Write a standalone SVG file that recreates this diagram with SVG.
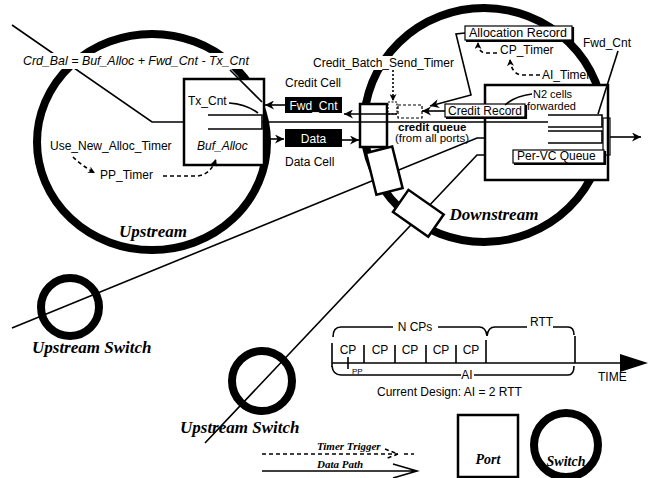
<svg xmlns="http://www.w3.org/2000/svg" width="652" height="478" viewBox="0 0 652 478">
<defs>
<style>
.s{font-family:"Liberation Sans",Arial,Helvetica,sans-serif;font-size:12px;fill:#000}
.it{font-style:italic}
.b{font-weight:bold}
.w{fill:#fff}
.lb{font-family:"Liberation Serif","Times New Roman",serif;font-weight:bold;font-style:italic;font-size:17px;fill:#000}
.ring{fill:none;stroke:#000;stroke-width:8}
.ln{fill:none;stroke:#000;stroke-width:1.6}
.thin{fill:none;stroke:#000;stroke-width:1.2}
.dsh{fill:none;stroke:#000;stroke-width:1.6;stroke-dasharray:4 3}
.dot{fill:none;stroke:#000;stroke-width:1.6;stroke-dasharray:2 2}
.port{fill:#fff;stroke:#000;stroke-width:2.5}
.mask{fill:#fff;stroke:none}
</style>
<marker id="ah" viewBox="0 0 10 10" refX="10" refY="5" markerWidth="11" markerHeight="9" orient="auto" markerUnits="userSpaceOnUse">
<path d="M0,0 L10,5 L0,10 L3,5 z" fill="#000"/>
</marker>
<marker id="ahs" viewBox="0 0 10 10" refX="10" refY="5" markerWidth="7" markerHeight="7" orient="auto" markerUnits="userSpaceOnUse">
<path d="M0,0 L10,5 L0,10 L3,5 z" fill="#000"/>
</marker>
</defs>

<g id="connectors">
<path class="ln" d="M12,25 L152,122 H208"/>
<path class="ln" d="M12,328 L477,138 H548"/>
<path class="ln" d="M205,443 L477,155 H513"/>
</g>

<g id="upstream-switch">
<ellipse class="ring" cx="152" cy="142" rx="115" ry="108"/>
<rect class="mask" x="20" y="53" width="234" height="16"/>
<text class="s it" x="23" y="65" style="font-size:12.4px">Crd_Bal = Buf_Alloc + Fwd_Cnt - Tx_Cnt</text>
<text class="s" x="50" y="150">Use_New_Alloc_Timer</text>
<text class="s" x="100" y="179">PP_Timer</text>
<text class="lb" x="153" y="237" text-anchor="middle">Upstream</text>
</g>

<g id="upstream-port">
<rect class="port" x="184" y="79" width="80" height="86"/>
<path class="ln" d="M208,115 H262 V129 H208"/>
<text class="s" x="188" y="105">Tx_Cnt</text>
<text class="s it" x="197" y="150">Buf_Alloc</text>
</g>

<g id="downstream-switch">
<ellipse class="ring" cx="484" cy="125" rx="120" ry="117"/>
<rect class="mask" x="311" y="56" width="149" height="14"/>
<text class="s" x="313" y="67">Credit_Batch_Send_Timer</text>
<text class="lb" x="494" y="220" text-anchor="middle">Downstream</text>
</g>

<g id="downstream-ports">
<rect class="port" x="360" y="104" width="27" height="43"/>
<rect class="port" x="0" y="0" width="27" height="43" transform="translate(366,153) rotate(-14)"/>
<rect class="port" x="0" y="0" width="27" height="43" transform="translate(393,212) rotate(-55)"/>
</g>

<g id="downstream-box">
<rect class="port" x="485" y="85" width="123" height="95"/>
<path class="ln" d="M548,115 H602 V127 H548 M548,131 H602 V143 H548"/>
<rect class="thin" x="603" y="118" width="7" height="37" fill="#fff"/>
<text class="s" x="533" y="97.5" style="font-size:11px">N2 cells</text>
<text class="s" x="527" y="110" style="font-size:11px">forwarded</text>
</g>

<g id="per-vc-queue">
<rect x="513" y="150" width="91" height="13" fill="#fff" stroke="#000" stroke-width="1.2"/>
<path d="M514,164 H605 V151" fill="none" stroke="#000" stroke-width="2.2"/>
<text class="s" x="517" y="160">Per-VC Queue</text>
</g>

<g id="credit-record">
<rect x="445" y="104" width="80" height="13" fill="#fff" stroke="#000" stroke-width="1.2"/>
<path d="M446,118 H526 V105" fill="none" stroke="#000" stroke-width="2.2"/>
<text class="s" x="448" y="115">Credit Record</text>
</g>

<g id="allocation-record">
<rect x="465" y="26" width="107" height="14" fill="#fff" stroke="#000" stroke-width="1.2"/>
<path d="M466,41 H573 V27" fill="none" stroke="#000" stroke-width="2.2"/>
<text class="s" x="469" y="37" style="font-size:12.5px">Allocation Record</text>
</g>

<g id="credit-queue">
<rect x="388" y="102" width="9" height="12" fill="#fff" stroke="#000" stroke-width="1.2" stroke-dasharray="2 1.5"/>
<rect x="398" y="105" width="24" height="13" fill="#fff" stroke="#000" stroke-width="1.2" stroke-dasharray="3 2"/>
<text class="s b" x="398" y="131" style="font-size:11.5px">credit queue</text>
<text class="s" x="395" y="142" style="font-size:11.5px">(from all ports)</text>
</g>

<g id="timers">
<text class="s" x="500" y="54">CP_Timer</text>
<text class="s" x="542" y="79">AI_Timer</text>
<text class="s" x="583" y="47">Fwd_Cnt</text>
</g>

<g id="cells">
<text class="s" x="285" y="87">Credit Cell</text>
<rect x="285" y="97" width="57" height="16" fill="#000"/>
<text class="s w" x="313.5" y="109.5" text-anchor="middle">Fwd_Cnt</text>
<rect x="285" y="129" width="57" height="18" fill="#000"/>
<text class="s w" x="313.5" y="142.5" text-anchor="middle">Data</text>
<text class="s" x="285" y="166">Data Cell</text>
</g>

<g id="connectors-2">
<path class="ln" d="M262,122 H548"/>
<path class="ln" d="M229,103 Q246,104 258,113"/>
<path class="ln" d="M230,70 L262,102"/>
<path class="dsh" d="M73,157 Q82,166 95,173" marker-end="url(#ahs)"/>
<path class="dsh" d="M163,176 H198 Q211,174 216,159" marker-end="url(#ahs)"/>
<path class="ln" d="M285,105 H265" marker-end="url(#ah)"/>
<path class="ln" d="M397,114 H344" marker-end="url(#ah)"/>
<path class="ln" d="M265,139 H284" marker-end="url(#ah)"/>
<path class="ln" d="M342,140 H359" marker-end="url(#ah)"/>
<path class="dot" d="M393,70 V101" marker-end="url(#ahs)"/>
<path class="ln" d="M445,111 H422" marker-end="url(#ah)"/>
<path class="ln" d="M465,33 L456,34 L471,95 L430,106" marker-end="url(#ah)"/>
<path class="dsh" d="M497,53 H485 Q478,52 478,42" marker-end="url(#ahs)"/>
<path class="dsh" d="M540,75 H521 Q511,73 510,59" marker-end="url(#ahs)"/>
<path class="ln" d="M618,51 L598,114"/>
<path class="ln" d="M532,94 Q515,96 505,105"/>
<path class="ln" d="M610,137 H641" marker-end="url(#ah)"/>
</g>

<g id="small-switch-1">
<circle class="ring" cx="70" cy="307" r="29"/>
<text class="lb" x="32" y="353">Upstream Switch</text>
</g>
<g id="small-switch-2">
<circle class="ring" cx="262" cy="381" r="30"/>
<text class="lb" x="180" y="433">Upstream Switch</text>
</g>

<g id="timeline">
<path class="ln" d="M332,363 H622"/>
<polygon points="620,354 648,363 620,372" fill="#000"/>
<path class="ln" d="M332,343 V367 M364,345 V363 M395,345 V363 M426,345 V363 M456,345 V363 M486,340 V363 M575,336 V363 M348,357 V369"/>
<text class="s" x="348" y="354" text-anchor="middle">CP</text>
<text class="s" x="380" y="354" text-anchor="middle">CP</text>
<text class="s" x="410" y="354" text-anchor="middle">CP</text>
<text class="s" x="441" y="354" text-anchor="middle">CP</text>
<text class="s" x="471" y="354" text-anchor="middle">CP</text>
<text class="s" x="352" y="374" style="font-size:8px">PP</text>
<path class="ln" d="M333,337 Q333,327 341,327 H393 M438,327 H479 Q486,327 487,336 Q488,327 495,327 H527 M553,327 H568 Q574,327 574,335"/>
<text class="s" x="415" y="331" text-anchor="middle">N CPs</text>
<text class="s" x="530" y="326">RTT</text>
<path class="ln" d="M332,366 Q333,375 341,375 H461 M474,375 H568 Q574,375 574,366"/>
<text class="s" x="467" y="379" text-anchor="middle">AI</text>
<text class="s" x="598" y="381">TIME</text>
<text class="s" x="377" y="396">Current Design: AI = 2 RTT</text>
</g>

<g id="legend">
<path class="dsh" d="M262,454 H398 M404,454 H414"/>
<path class="dsh" d="M385,449 L398,454 L385,459"/>
<text class="lb" x="317" y="450" style="font-size:11px">Timer Trigger</text>
<path class="ln" d="M262,471 H416 M393,464 L417,471 L393,478"/>
<text class="lb" x="317" y="468" style="font-size:11px">Data Path</text>
<rect x="458" y="415" width="60" height="62" fill="none" stroke="#000" stroke-width="2.5"/>
<text class="lb" x="488" y="464" style="font-size:14px" text-anchor="middle">Port</text>
<circle class="ring" cx="566" cy="445" r="32"/>
<text class="lb" x="566" y="466" style="font-size:14px" text-anchor="middle">Switch</text>
</g>
</svg>
